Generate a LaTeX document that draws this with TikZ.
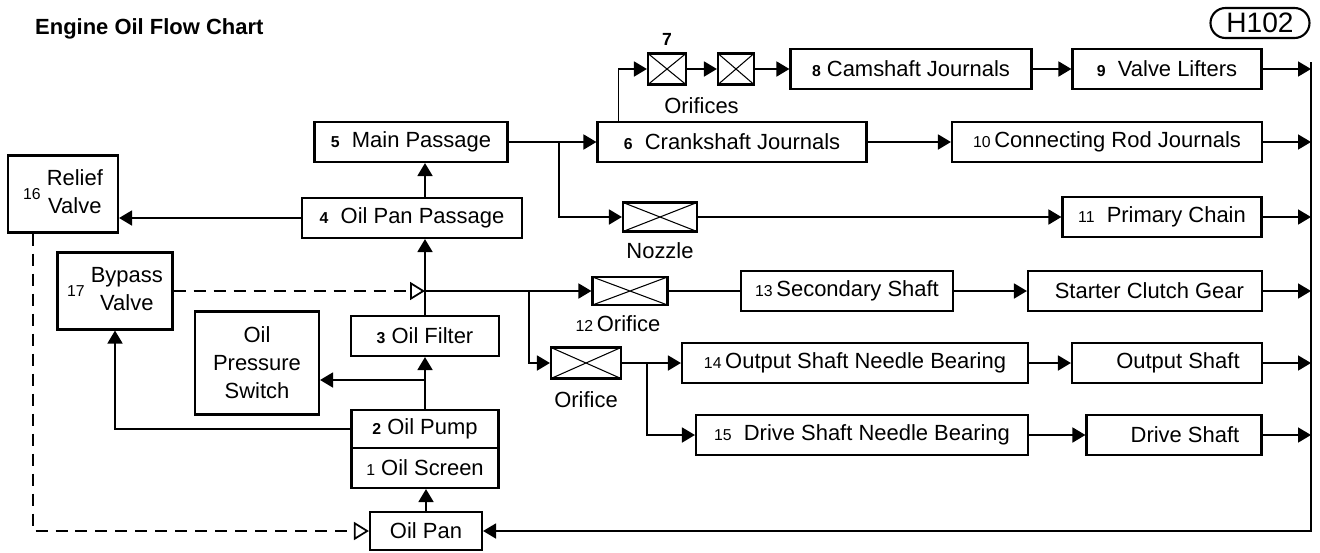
\documentclass[tikz,border=0pt]{standalone}
\usepackage{fontspec}
\setmainfont{Liberation Sans}
\usetikzlibrary{arrows.meta, positioning, calc}
\newcommand{\bnum}[1]{{\fontsize{9}{9}\selectfont\bfseries #1}}
\newcommand{\lnum}[1]{{\fontsize{9}{9}\selectfont #1}}
\tikzset{
  flowbox/.style={draw, line width=1.2pt, inner sep=0pt, minimum height=0.8cm,
    font=\fontsize{12.5}{16}\selectfont, align=center},
  boxw/.style={minimum width=#1*0.02cm},
  boxh/.style={minimum height=#1*0.02cm},
  orifice/.style={draw, line width=1.2pt, inner sep=0pt,
    path picture={\draw[line width=0.6pt]
      (path picture bounding box.south west) -- (path picture bounding box.north east)
      (path picture bounding box.north west) -- (path picture bounding box.south east);}},
  flowarrow/.style={-{Triangle[length=0.26cm, width=0.3cm]}, line width=1pt},
  flowline/.style={line width=1pt},
  bypassarrow/.style={-{Triangle[open, length=0.3cm, width=0.36cm, fill=white]},
    line width=1pt, dash pattern=on 0.24cm off 0.16cm},
  flowlabel/.style={font=\fontsize{12.5}{15}\selectfont, inner sep=1pt},
}
\begin{document}
\begin{tikzpicture}[x=0.02cm, y=-0.02cm]
  \useasboundingbox (0,0) rectangle (1320,552);
  % heading
  \node[anchor=west, font=\fontsize{12.5}{15}\selectfont\bfseries] (title) at (29,29) {Engine Oil Flow Chart};
  \node[draw, line width=1.2pt, rounded corners=0.3cm, inner sep=0pt, boxw=99, boxh=30,
    font=\fontsize{16}{18}\selectfont] (code) at (1260,23) {H102};

  % pump, filter, valves
  \node[flowbox, boxw=112, boxh=38] (pan) at (426,531) {Oil Pan};
  \node[flowbox, boxw=147] (screen) at (425,468) {\lnum{1}\ Oil Screen};
  \node[flowbox, boxw=147, boxh=38] (pump) at (425,429) {\bnum{2}\ Oil Pump};
  \node[flowbox, boxw=148] (filter) at (425,336) {\bnum{3}\ Oil Filter};
  \node[flowbox, boxw=124, boxh=103] (switch) at (257,363) {Oil\\Pressure\\Switch};
  \node[flowbox, boxw=115, boxh=77] (bypass) at (115,291)
    {\lnum{17}\ \begin{tabular}{@{}c@{}}Bypass\\Valve\end{tabular}};
  \node[flowbox, boxw=110, boxh=77] (relief) at (63,194)
    {\lnum{16}\ \begin{tabular}{@{}c@{}}Relief\\Valve\end{tabular}};
  \node[flowbox, boxw=220] (opp) at (412,218) {\bnum{4}\ \ Oil Pan Passage};
  \node[flowbox, boxw=193] (main) at (411,142) {\bnum{5}\ \ Main Passage};

  % journals and shafts
  \node[flowbox, boxw=269] (crank) at (732,142) {\bnum{6}\ \ Crankshaft Journals};
  \node[orifice, boxw=38, boxh=31] (orf7a) at (667,69) {};
  \node[orifice, boxw=36, boxh=31] (orf7b) at (736,69) {};
  \node[flowbox, boxw=241] (cam) at (911,69) {\bnum{8}\ Camshaft Journals};
  \node[flowbox, boxw=189] (lifter) at (1167,69) {\bnum{9}\ \ Valve Lifters};
  \node[flowbox, boxw=310] (conrod) at (1107,142) {\lnum{10}\,Connecting Rod Journals};
  \node[orifice, boxw=74, boxh=29] (nozzle) at (660,217) {};
  \node[flowbox, boxw=199] (chain) at (1162,217) {\lnum{11}\ \ Primary Chain};
  \node[orifice, boxw=75, boxh=28] (orf12) at (630,291) {};
  \node[flowbox, boxw=212] (secshaft) at (847,291) {\lnum{13}\,Secondary Shaft};
  \node[flowbox, boxw=234] (starter) at (1145,291) {\hspace{0.4em}Starter Clutch Gear};
  \node[orifice, boxw=70, boxh=31] (orf14) at (586,363) {};
  \node[flowbox, boxw=346] (outneedle) at (855,363) {\lnum{14}\,Output Shaft Needle Bearing};
  \node[flowbox, boxw=190] (outshaft) at (1167,363) {\hspace{1em}Output Shaft};
  \node[flowbox, boxw=332] (drvneedle) at (862,435) {\lnum{15}\ \ Drive Shaft Needle Bearing};
  \node[flowbox, boxw=175] (drvshaft) at (1174,435) {\hspace{1em}Drive Shaft};

  % orifice labels
  \node[flowlabel, font=\fontsize{10}{10}\selectfont\bfseries, above=0.1cm of orf7a] (orf7num) {7};
  \node[flowlabel, anchor=north] (orf7lbl) at ($(orf7a.south)!0.5!(orf7b.south)+(0,10)$) {Orifices};
  \node[flowlabel, below=0.16cm of nozzle] (nozzlelbl) {Nozzle};
  \node[flowlabel, below=0.15cm of orf12, xshift=-0.24cm] (orf12lbl) {\lnum{12}\,Orifice};
  \node[flowlabel, below=0.2cm of orf14] (orf14lbl) {Orifice};

  \coordinate (jct) at (425,291);
  \coordinate (tap) at (425,380);
  \coordinate (split12) at (529,291);
  \coordinate (split14) at (647,363);
  \coordinate (splitm) at (559,142);
  \coordinate (bustop) at (1311,62);

  % pump circuit
  \draw[flowarrow] (pan.north) -- (pan.north |- screen.south);
  \draw[flowarrow] (pump.north) -- (filter.south);
  \draw[flowarrow] (tap) -- (tap -| switch.east);
  \draw[flowarrow] (pump.west) -| (bypass.south);
  \draw[flowline] (filter.north) -- (jct);
  \draw[flowarrow] (jct) -- (jct |- opp.south);
  \draw[flowarrow] (jct |- opp.north) -- (jct |- main.south);
  \draw[flowarrow] (opp.west) -- (opp.west -| relief.east);
  \draw[bypassarrow] (bypass.east) -- (jct);
  \draw[bypassarrow] ([xshift=-0.6cm]relief.south) |- (pan.west);

  % branches
  \draw[flowarrow] (jct) -- (orf12.west);
  \draw[flowarrow] (split12) |- (orf14.west);
  \draw[flowline] (orf12.east) -- (secshaft.west);
  \draw[flowarrow] (secshaft) -- (starter);
  \draw[flowarrow] (orf14.east) -- (outneedle.west);
  \draw[flowarrow] (split14) |- (drvneedle.west);
  \draw[flowarrow] (outneedle) -- (outshaft);
  \draw[flowarrow] (drvneedle) -- (drvshaft);
  \draw[flowarrow] (main) -- (crank);
  \draw[flowarrow] (splitm) |- (nozzle.west);
  \draw[flowarrow] (nozzle) -- (chain);
  \draw[flowarrow] (crank) -- (conrod);
  \draw[flowarrow] ($(crank.north west)+(22,0)$) |- (orf7a.west);
  \draw[flowarrow] (orf7a) -- (orf7b);
  \draw[flowarrow] (orf7b) -- (cam);
  \draw[flowarrow] (cam) -- (lifter);

  % return to the pan
  \foreach \n in {lifter,conrod,chain,starter,outshaft,drvshaft}
    \draw[flowarrow] (\n.east) -- (\n.east -| bustop);
  \draw[flowarrow] (bustop) |- (pan.east);
\end{tikzpicture}
\end{document}
